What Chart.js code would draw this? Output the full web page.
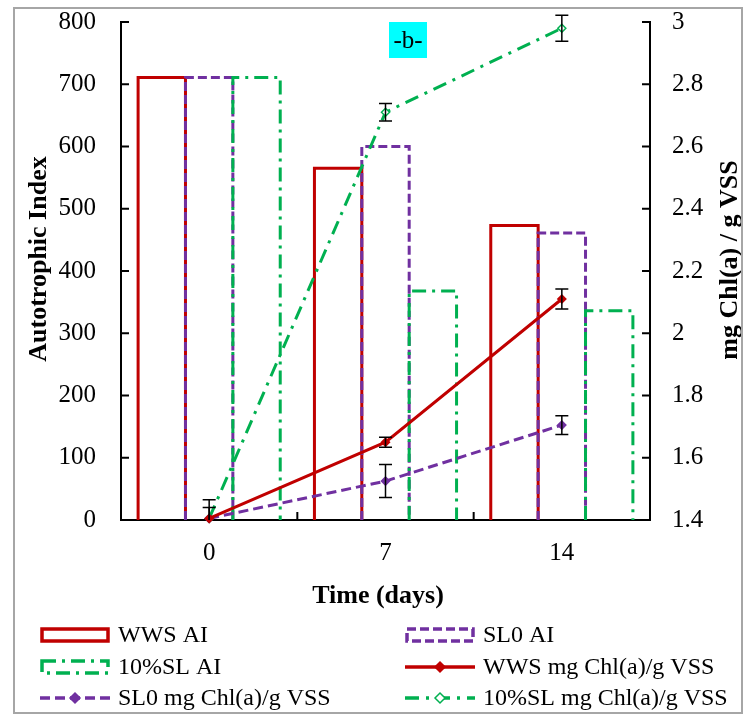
<!DOCTYPE html>
<html>
<head>
<meta charset="utf-8">
<script src="https://cdn.jsdelivr.net/npm/chart.js@4.4.0/dist/chart.umd.min.js"></script>
<style>
  html, body { margin: 0; padding: 0; background: #fff; }
  #wrap { width: 750px; height: 716px; }
</style>
</head>
<body>
<div id="wrap"><canvas id="chart" width="750" height="716"></canvas></div>
<script>
// data
var days = ["0", "7", "14"];
var wwsAI = [711, 565, 473];
var sl0AI = [711, 600, 461];
var sl10AI = [711, 368, 336];
var wwsChl = [1.405, 1.65, 2.11];
var sl0Chl = [1.405, 1.525, 1.705];
var sl10Chl = [1.405, 2.71, 2.98];
var wwsErr = [0.06, 0.016, 0.032];
var sl0Err = [0.035, 0.053, 0.03];
var sl10Err = [0, 0.028, 0.042];

var RED = "#C00000";
var PURPLE = "#7030A0";
var GREEN = "#00B050";
var SERIF = "'Liberation Serif', 'Times New Roman', serif";

function barSet(label, data, color, dash) {
  return {
    type: "bar",
    label: label,
    data: data,
    yAxisID: "y",
    backgroundColor: "rgba(0,0,0,0)",
    borderWidth: 0,
    outline: color,
    dash: dash,
    categoryPercentage: 0.806,
    barPercentage: 1,
  };
}

function lineSet(label, data, errs, color, dash, hollow) {
  return {
    type: "line",
    label: label,
    data: data,
    errs: errs,
    yAxisID: "y1",
    borderColor: color,
    borderWidth: 3,
    borderDash: dash,
    tension: 0,
    fill: false,
    clip: false,
    pointStyle: "rectRot",
    pointRadius: 4,
    pointBorderWidth: 1.5,
    pointBorderColor: color,
    pointBackgroundColor: hollow ? "#fff" : color,
  };
}

function vText(ctx, text, x, y) {
  ctx.save();
  ctx.translate(x, y);
  ctx.rotate(-Math.PI / 2);
  ctx.fillStyle = "#000";
  ctx.font = "bold 26px " + SERIF;
  ctx.textAlign = "center";
  ctx.textBaseline = "middle";
  ctx.fillText(text, 0, 0);
  ctx.restore();
}

// fixed axis boxes so the plot area lands where the picture has it
function fitY(w) {
  return function (s) {
    s.width = w;
    s.paddingTop = 0;
    s.paddingBottom = 0;
  };
}

// bar outlines, error bars, inward ticks, titles, legend
var extras = {
  id: "extras",
  beforeDraw: function (chart) {
    var ctx = chart.ctx;
    ctx.save();
    ctx.fillStyle = "#fff";
    ctx.fillRect(0, 0, chart.width, chart.height);
    ctx.restore();
  },
  beforeDatasetsDraw: function (chart) {
    var ctx = chart.ctx;
    chart.data.datasets.forEach(function (ds, i) {
      if (ds.type !== "bar") return;
      chart.getDatasetMeta(i).data.forEach(function (bar) {
        var p = bar.getProps(["x", "y", "base", "width"], true);
        var l = p.x - p.width / 2, r = p.x + p.width / 2;
        ctx.save();
        ctx.strokeStyle = ds.outline;
        ctx.lineWidth = 3;
        ctx.setLineDash(ds.dash);
        ctx.beginPath();
        ctx.moveTo(l, p.base);
        ctx.lineTo(l, p.y);
        ctx.lineTo(r, p.y);
        ctx.lineTo(r, p.base);
        ctx.stroke();
        ctx.restore();
      });
    });
  },
  afterDatasetsDraw: function (chart) {
    var ctx = chart.ctx;
    var a = chart.chartArea;
    var y1 = chart.scales.y1;
    ctx.save();
    ctx.beginPath();
    ctx.rect(a.left, a.top - 10, a.right - a.left, a.bottom - a.top + 10);
    ctx.clip();
    ctx.strokeStyle = "#000";
    ctx.lineWidth = 1.5;
    chart.data.datasets.forEach(function (ds, i) {
      if (!ds.errs) return;
      chart.getDatasetMeta(i).data.forEach(function (pt, j) {
        var e = ds.errs[j];
        if (!e) return;
        var v = ds.data[j];
        var t = y1.getPixelForValue(v + e), b = y1.getPixelForValue(v - e);
        ctx.beginPath();
        ctx.moveTo(pt.x, t); ctx.lineTo(pt.x, b);
        ctx.moveTo(pt.x - 6.5, t); ctx.lineTo(pt.x + 6.5, t);
        ctx.moveTo(pt.x - 6.5, b); ctx.lineTo(pt.x + 6.5, b);
        ctx.stroke();
      });
    });
    ctx.restore();

    // inward tick marks
    ctx.save();
    ctx.strokeStyle = "#000";
    ctx.lineWidth = 2;
    ctx.beginPath();
    chart.scales.y.ticks.forEach(function (t) {
      var py = chart.scales.y.getPixelForValue(t.value);
      ctx.moveTo(a.left, py); ctx.lineTo(a.left + 8, py);
    });
    y1.ticks.forEach(function (t) {
      var py = y1.getPixelForValue(t.value);
      ctx.moveTo(a.right, py); ctx.lineTo(a.right - 8, py);
    });
    var xs = chart.scales.x;
    for (var k = 1; k < days.length; k++) {
      var px = (xs.getPixelForValue(k - 1) + xs.getPixelForValue(k)) / 2;
      ctx.moveTo(px, a.bottom); ctx.lineTo(px, a.bottom - 8);
    }
    ctx.stroke();
    ctx.restore();
  },
  afterDraw: function (chart) {
    var ctx = chart.ctx;

    // axis titles
    vText(ctx, "Autotrophic Index", 39, 259);
    vText(ctx, "mg Chl(a) / g VSS", 730, 260);
    ctx.save();
    ctx.fillStyle = "#000";
    ctx.font = "bold 26px " + SERIF;
    ctx.textAlign = "center";
    ctx.textBaseline = "middle";
    ctx.fillText("Time (days)", 378, 596);
    ctx.restore();

    // -b- label
    ctx.save();
    ctx.fillStyle = "#00FFFF";
    ctx.fillRect(389, 22, 38, 36);
    ctx.fillStyle = "#000";
    ctx.font = "25px " + SERIF;
    ctx.textAlign = "center";
    ctx.textBaseline = "middle";
    ctx.fillText("-b-", 408, 41);
    ctx.restore();

    // legend
    var colX = [40, 405];
    var rowY = [635, 667, 698];
    chart.data.datasets.forEach(function (ds, i) {
      var x0 = colX[i % 2], y = rowY[Math.floor(i / 2)];
      ctx.save();
      if (ds.type === "bar") {
        ctx.strokeStyle = ds.outline;
        ctx.lineWidth = 3.5;
        ctx.setLineDash(ds.dash);
        ctx.strokeRect(x0 + 2, y - 6, 66, 12);
      } else {
        ctx.strokeStyle = ds.borderColor;
        ctx.lineWidth = 3.5;
        ctx.setLineDash(ds.borderDash);
        ctx.beginPath();
        ctx.moveTo(x0, y); ctx.lineTo(x0 + 70, y);
        ctx.stroke();
        ctx.setLineDash([]);
        ctx.lineWidth = 1.5;
        ctx.fillStyle = ds.pointBackgroundColor;
        ctx.beginPath();
        ctx.moveTo(x0 + 35, y - 5); ctx.lineTo(x0 + 40, y);
        ctx.lineTo(x0 + 35, y + 5); ctx.lineTo(x0 + 30, y);
        ctx.closePath();
        ctx.fill();
        ctx.stroke();
      }
      ctx.fillStyle = "#000";
      ctx.font = "24px " + SERIF;
      ctx.textBaseline = "middle";
      ctx.fillText(ds.label, x0 + 78, y + 1);
      ctx.restore();
    });

    // outer frame
    ctx.save();
    ctx.strokeStyle = "#a6a6a6";
    ctx.lineWidth = 2;
    ctx.strokeRect(14, 8, 728, 705);
    ctx.restore();
  },
};

var ctxC = document.getElementById("chart").getContext("2d");
var chart = new Chart(ctxC, {
  data: {
    labels: days,
    datasets: [
      barSet("WWS AI", wwsAI, RED, []),
      barSet("SL0 AI", sl0AI, PURPLE, [9, 4]),
      barSet("10%SL AI", sl10AI, GREEN, [14, 6, 3, 6]),
      lineSet("WWS mg Chl(a)/g VSS", wwsChl, wwsErr, RED, [], false),
      lineSet("SL0 mg Chl(a)/g VSS", sl0Chl, sl0Err, PURPLE, [10, 5], false),
      lineSet("10%SL mg Chl(a)/g VSS", sl10Chl, sl10Err, GREEN, [14, 7, 3, 7], true),
    ],
  },
  plugins: [extras],
  options: {
    responsive: false,
    animation: false,
    layout: { padding: { left: 22, right: 0, top: 22, bottom: 106 } },
    plugins: {
      legend: { display: false },
      tooltip: { enabled: false },
    },
    scales: {
      x: {
        type: "category",
        offset: true,
        grid: { display: false, drawTicks: false },
        border: { display: true, color: "#000", width: 2 },
        ticks: { color: "#000", padding: 18, font: { family: SERIF, size: 25 } },
        afterFit: function (s) { s.height = 90; },
      },
      y: {
        position: "left",
        min: 0,
        max: 800,
        grid: { display: false, drawTicks: false },
        border: { display: true, color: "#000", width: 2 },
        ticks: { stepSize: 100, color: "#000", padding: 25, font: { family: SERIF, size: 25 } },
        afterFit: fitY(99),
      },
      y1: {
        position: "right",
        min: 1.4,
        max: 3,
        grid: { display: false, drawTicks: false },
        border: { display: true, color: "#000", width: 2 },
        ticks: {
          stepSize: 0.2,
          color: "#000",
          padding: 22,
          font: { family: SERIF, size: 25 },
          callback: function (v) { return String(parseFloat(v.toFixed(1))); },
        },
        afterFit: fitY(100),
      },
    },
  },
});
</script>
</body>
</html>
